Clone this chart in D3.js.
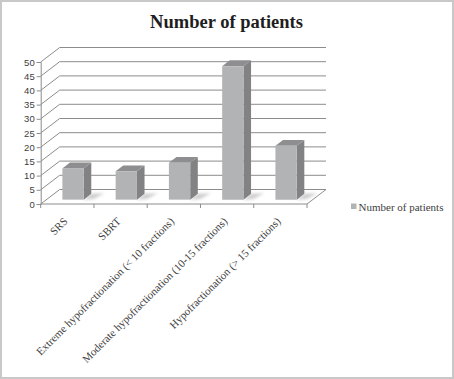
<!DOCTYPE html>
<html><head><meta charset="utf-8">
<script src="https://cdn.jsdelivr.net/npm/d3@7"></script>
<style>html,body{margin:0;padding:0;background:#fff;}svg{display:block;}</style>
</head><body>
<svg id="chart" width="454" height="379"></svg>
<script>
const categories = ["SRS","SBRT","Extreme hypofractionation (< 10 fractions)","Moderate hypofractionation (10-15 fractions)","Hypofractionation (> 15 fractions)"];
const values = [11, 10, 13, 47, 19];
const yTicks = [0, 5, 10, 15, 20, 25, 30, 35, 40, 45, 50];
const seriesName = "Number of patients";
const title = "Number of patients";

const W = 454, H = 379;
const svg = d3.select("#chart");
const DX = 19, DY = -14.5;          // depth offset of the 3D box
const F0 = 0.3, F1 = 0.7;           // bar depth (front/back fraction)

const x = d3.scaleBand().domain(categories).range([40.7, 307]).paddingInner(0).paddingOuter(0);
const y = d3.scaleLinear().domain([0, 50]).range([204, 62]);
const bw = x.bandwidth();

// frame
svg.append("rect").attr("x",1).attr("y",1).attr("width",W-2).attr("height",H-2)
  .attr("fill","#fff").attr("stroke","#c8c8c8").attr("stroke-width",2);

// title
svg.append("text").attr("x",226.5).attr("y",28).attr("text-anchor","middle")
  .attr("font-family","Liberation Serif, serif").attr("font-weight","bold").attr("font-size",18.5)
  .attr("fill","#1e1e1e").text(title);

const defs = svg.append("defs");
defs.append("filter").attr("id","blur").attr("x","-50%").attr("y","-50%").attr("width","200%").attr("height","200%")
  .append("feGaussianBlur").attr("stdDeviation",1.6);

const gridC = "#8c8c8c";
const x0 = x.range()[0], x1 = x.range()[1];
const grid = svg.append("g").attr("fill","none").attr("stroke",gridC).attr("stroke-width",1);
yTicks.forEach(t => {
  const yy = y(t);
  grid.append("path").attr("d",
    `M${x0},${yy}L${x0+DX},${yy+DY}L${x1+DX},${yy+DY}`);
});
grid.append("path").attr("d",`M${x0},${y(0)}L${x1},${y(0)}L${x1+DX},${y(0)+DY}`);

// y axis
const yAxis = d3.axisLeft(y).tickValues(yTicks).tickSize(4).tickPadding(2);
const gy = svg.append("g").attr("transform",`translate(${x0},0)`).call(yAxis);
gy.select(".domain").attr("stroke",gridC);
gy.selectAll(".tick line").attr("stroke",gridC);
gy.selectAll(".tick text").attr("font-family","Liberation Sans, Arial, sans-serif")
  .attr("font-size",9.5).attr("fill","#404040");

// x ticks at category boundaries
const bounds = categories.map(c => x(c)).concat([x1]);
svg.append("g").selectAll("line").data(bounds).join("line")
  .attr("x1",d=>d).attr("x2",d=>d).attr("y1",y(0)).attr("y2",y(0)+4)
  .attr("stroke",gridC);

// bars
const bars = svg.append("g");
const P = (px, py, f) => [px + f*DX, py + f*DY];
categories.forEach((c, i) => {
  const v = values[i];
  const cx = x(c) + bw/2;
  const L = cx - bw*0.2, R = cx + bw*0.2;
  const yb = y(0), yt = y(v);
  const fL_b = P(L,yb,F0), fR_b = P(R,yb,F0), fL_t = P(L,yt,F0), fR_t = P(R,yt,F0);
  const bR_b = P(R,yb,F1), bR_t = P(R,yt,F1), bL_t = P(L,yt,F1);
  const s2 = P(R+9,yb,F0+0.05);
  bars.append("path").attr("d",`M${fR_b}L${s2}L${P(R+12,yb,F1+0.05)}L${bR_b}Z`)
    .attr("fill","#c8c8c8").attr("filter","url(#blur)").attr("opacity",0.9);
  bars.append("path").attr("d",`M${P(L-1,yb,F0-0.02)}L${P(R+8,yb,F0-0.02)}L${fR_b}L${fL_b}Z`)
    .attr("fill","#d4d4d4").attr("filter","url(#blur)").attr("opacity",0.7);
  bars.append("path").attr("d",`M${fR_b}L${bR_b}L${bR_t}L${fR_t}Z`).attr("fill","#828284");
  bars.append("path").attr("d",`M${fL_t}L${fR_t}L${bR_t}L${bL_t}Z`).attr("fill","#8e8e90");
  bars.append("path").attr("d",`M${fL_b}L${fR_b}L${fR_t}L${fL_t}Z`).attr("fill","#b2b3b5");
});

// category labels
svg.append("g").selectAll("text").data(categories).join("text")
  .attr("transform", d => `translate(${x(d)+bw/2+1},222) rotate(-45)`)
  .attr("text-anchor","end")
  .attr("font-family","Liberation Serif, serif").attr("font-size",11).attr("fill","#404040")
  .text(d => d);

// legend
const lg = svg.append("g");
lg.append("rect").attr("x",351).attr("y",203.5).attr("width",5.5).attr("height",5.5).attr("fill","#b2b3b5");
lg.append("text").attr("x",358.5).attr("y",210.5)
  .attr("font-family","Liberation Serif, serif").attr("font-size",11).attr("fill","#404040")
  .text(seriesName);
</script>
</body></html>
